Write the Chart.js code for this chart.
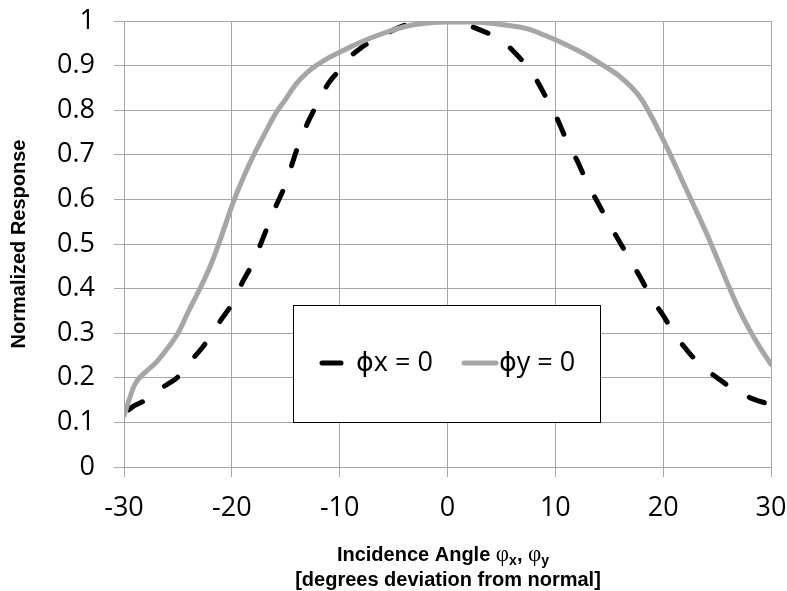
<!DOCTYPE html>
<html>
<head>
<meta charset="utf-8">
<script src="https://cdn.jsdelivr.net/npm/chart.js@4.4.1/dist/chart.umd.min.js"></script>
<style>
  html, body { margin: 0; padding: 0; background: #ffffff; }
  #wrap { width: 787px; height: 591px; position: relative; }
</style>
</head>
<body>
<div id="wrap"><canvas id="c" width="787" height="591"></canvas></div>
<script>
// ---- data ----
const angles = [-30,-29,-28,-27,-26,-25,-24,-23,-22,-21,-20,-19,-18,-17,-16,-15,-14,-13,-12,-11,-10,-9,-8,-7,-6,-5,-4,-3,-2,-1,0,1,2,3,4,5,6,7,8,9,10,11,12,13,14,15,16,17,18,19,20,21,22,23,24,25,26,27,28,29,30];
const phiX = [0.12,0.138,0.15,0.17,0.185,0.202,0.233,0.26,0.292,0.33,0.365,0.415,0.46,0.52,0.58,0.635,0.71,0.77,0.818,0.862,0.89,0.92,0.94,0.955,0.968,0.98,0.99,0.996,0.999,1.0,1.0,0.998,0.99,0.98,0.97,0.957,0.935,0.909,0.878,0.835,0.79,0.735,0.688,0.635,0.59,0.545,0.503,0.462,0.42,0.375,0.34,0.3,0.268,0.24,0.218,0.2,0.183,0.17,0.156,0.147,0.14];
const phiY = [0.115,0.185,0.213,0.235,0.265,0.3,0.35,0.398,0.45,0.515,0.585,0.645,0.698,0.745,0.79,0.825,0.86,0.885,0.903,0.918,0.93,0.942,0.953,0.963,0.972,0.98,0.987,0.992,0.995,0.997,0.998,0.998,0.998,0.997,0.995,0.992,0.989,0.985,0.978,0.968,0.958,0.947,0.935,0.922,0.907,0.892,0.875,0.853,0.824,0.782,0.734,0.683,0.63,0.578,0.525,0.468,0.41,0.355,0.308,0.267,0.23];
const xTicks = [-30,-20,-10,0,10,20,30];
const yTicks = [0,0.1,0.2,0.3,0.4,0.5,0.6,0.7,0.8,0.9,1];
const seriesNames = ['\u03D5x = 0', '\u03D5y = 0'];
const yTitle = 'Normalized Response';
const xTitle2 = '[degrees deviation from normal]';

const GRID = '#a6a6a6';
const GRAY = '#a6a6a6';
const TICK_FONT = { family: '"Open Sans", sans-serif', size: 27 };

const toPts = vals => angles.map((a, i) => ({ x: a, y: vals[i] }));

const customLegend = {
  id: 'customLegend',
  afterDraw(chart) {
    const ctx = chart.ctx;
    const x0 = 293.5, y0 = 305.5, w = 307, h = 117;
    ctx.save();
    ctx.fillStyle = '#ffffff';
    ctx.fillRect(x0, y0, w, h);
    ctx.strokeStyle = '#000000';
    ctx.lineWidth = 1;
    ctx.strokeRect(x0, y0, w, h);
    const cy = 363;
    const dsX = chart.data.datasets[1];
    const dsY = chart.data.datasets[0];
    ctx.lineCap = 'round';
    ctx.lineWidth = dsX.borderWidth;
    ctx.strokeStyle = dsX.borderColor;
    ctx.beginPath(); ctx.moveTo(322, cy); ctx.lineTo(341, cy); ctx.stroke();
    ctx.lineWidth = dsY.borderWidth;
    ctx.strokeStyle = dsY.borderColor;
    ctx.beginPath(); ctx.moveTo(464, cy); ctx.lineTo(496, cy); ctx.stroke();
    ctx.fillStyle = '#000000';
    ctx.font = '27px "Open Sans", "DejaVu Sans", sans-serif';
    ctx.textBaseline = 'middle';
    ctx.textAlign = 'left';
    ctx.fillText(dsX.label, 356, cy);
    ctx.fillText(dsY.label, 499, cy);
    ctx.restore();
  }
};

const xTitlePlugin = {
  id: 'xTitlePlugin',
  afterDraw(chart) {
    const ctx = chart.ctx;
    ctx.save();
    ctx.fillStyle = '#000000';
    ctx.textBaseline = 'alphabetic';
    ctx.textAlign = 'left';
    const bold = 'bold 20px "Liberation Sans", Arial, sans-serif';
    const greek = '23px "Liberation Serif", "DejaVu Serif", serif';
    const sub = 'bold 14px "Liberation Sans", Arial, sans-serif';
    const parts = [
      { t: 'Incidence Angle ', f: bold, dy: 0 },
      { t: '\u03C6', f: greek, dy: 0 },
      { t: 'x', f: sub, dy: 4 },
      { t: ', ', f: bold, dy: 0 },
      { t: '\u03C6', f: greek, dy: 0 },
      { t: 'y', f: sub, dy: 4 }
    ];
    let total = 0;
    parts.forEach(p => { ctx.font = p.f; p.w = ctx.measureText(p.t).width; total += p.w; });
    let x = 443 - total / 2;
    const base1 = 561;
    parts.forEach(p => { ctx.font = p.f; ctx.fillText(p.t, x, base1 + p.dy); x += p.w; });
    ctx.font = bold;
    ctx.textAlign = 'center';
    ctx.fillText(xTitle2, 448, 586);
    ctx.restore();
  }
};

new Chart(document.getElementById('c'), {
  type: 'scatter',
  data: {
    datasets: [
      {
        label: seriesNames[1],
        data: toPts(phiY),
        showLine: true,
        borderColor: GRAY,
        backgroundColor: GRAY,
        borderWidth: 5,
        pointRadius: 0,
        cubicInterpolationMode: 'monotone',
        borderCapStyle: 'round',
        borderJoinStyle: 'round',
        order: 0
      },
      {
        label: seriesNames[0],
        data: toPts(phiX),
        showLine: true,
        borderColor: '#000000',
        backgroundColor: '#000000',
        borderWidth: 5,
        borderDash: [16, 27],
        borderDashOffset: -6,
        borderCapStyle: 'round',
        pointRadius: 0,
        cubicInterpolationMode: 'monotone',
        order: 1
      }
    ]
  },
  options: {
    responsive: false,
    animation: false,
    devicePixelRatio: 1,
    layout: { padding: { top: 21, right: 16, left: 0, bottom: 0 } },
    plugins: {
      legend: { display: false },
      tooltip: { enabled: false }
    },
    scales: {
      x: {
        type: 'linear',
        min: -30, max: 30,
        afterBuildTicks: s => { s.ticks = xTicks.map(v => ({ value: v })); },
        afterFit: s => { s.height = 124; s.paddingLeft = 0; s.paddingRight = 0; },
        grid: { color: GRID, lineWidth: 1, tickLength: 10, drawTicks: true },
        border: { color: GRID, width: 1 },
        ticks: { color: '#000000', font: TICK_FONT, padding: 15, maxRotation: 0,
                 callback: v => String(v) }
      },
      y: {
        type: 'linear',
        min: 0, max: 1,
        afterBuildTicks: s => { s.ticks = yTicks.map(v => ({ value: v })); },
        afterFit: s => { s.width = 124; s.paddingTop = 0; s.paddingBottom = 0; },
        grid: { color: GRID, lineWidth: 1, tickLength: 10, drawTicks: true },
        border: { color: GRID, width: 1 },
        ticks: { color: '#000000', font: TICK_FONT, padding: 19,
                 callback: v => String(+v.toFixed(1)) },
        title: { display: true, text: yTitle, color: '#000000',
                 font: { family: '"Liberation Sans", Arial, sans-serif', size: 20, weight: 'bold' },
                 padding: { top: 7, bottom: 0 } }
      }
    }
  },
  plugins: [customLegend, xTitlePlugin]
});
</script>
</body>
</html>
